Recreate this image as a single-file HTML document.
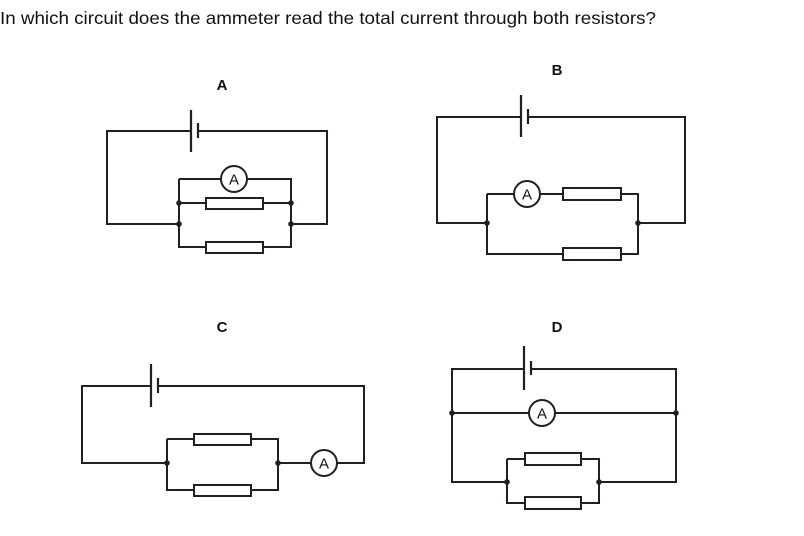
<!DOCTYPE html>
<html><head><style>html,body{margin:0;padding:0;background:#fff;}svg{display:block}</style></head>
<body>
<svg width="804" height="536" viewBox="0 0 804 536" xmlns="http://www.w3.org/2000/svg" font-family="Liberation Sans, Arial, sans-serif">
<text x="0" y="24" font-size="17.5" fill="#111" textLength="656" lengthAdjust="spacingAndGlyphs">In which circuit does the ammeter read the total current through both resistors?</text>
<g font-weight="bold" font-size="15" fill="#111" text-anchor="middle">
<text x="222" y="90">A</text><text x="557" y="75">B</text><text x="222" y="332">C</text><text x="557" y="332">D</text>
</g>
<g stroke="#231f20" stroke-width="2" fill="none">
<!-- A -->
<path d="M191 131H107V224H179M198 131H327V224H291"/>
<path d="M191 110V152M198 123V138" stroke-width="2.2"/>
<path d="M179 179V247H206M263 247H291V179H247M221 179H179M179 203H206M263 203H291"/>
<rect x="206" y="198" width="57" height="11"/><rect x="206" y="242" width="57" height="11"/>
<circle cx="234" cy="179" r="13"/>
<!-- B -->
<path d="M521 117H437V223H487M528 117H685V223H638"/>
<path d="M521 95V137M528 109V124" stroke-width="2.2"/>
<path d="M487 194V254H563M621 254H638V194H621M563 194H541M513 194H487"/>
<rect x="563" y="188" width="58" height="12"/><rect x="563" y="248" width="58" height="12"/>
<circle cx="527" cy="194" r="13"/>
<!-- C -->
<path d="M151 386H82V463H167M158 386H364V463H337M311 463H278"/>
<path d="M151 364V407M158 378V393" stroke-width="2.2"/>
<path d="M167 439V490H194M251 490H278V439H251M194 439H167"/>
<rect x="194" y="434" width="57" height="11"/><rect x="194" y="485" width="57" height="11"/>
<circle cx="324" cy="463" r="13"/>
<!-- D -->
<path d="M524 369H452V482H507M531 369H676V482H599M452 413H529M555 413H676"/>
<path d="M524 346V390M531 361V375" stroke-width="2.2"/>
<path d="M507 459V503H525M581 503H599V459H581M525 459H507"/>
<rect x="525" y="453" width="56" height="12"/><rect x="525" y="497" width="56" height="12"/>
<circle cx="542" cy="413" r="13"/>
</g>
<g font-size="15" fill="#111" text-anchor="middle">
<text x="234" y="184.5">A</text><text x="527" y="199.5">A</text><text x="324" y="468.5">A</text><text x="542" y="418.5">A</text>
</g>
<g fill="#231f20">
<circle cx="179" cy="203" r="2.8"/><circle cx="291" cy="203" r="2.8"/><circle cx="179" cy="224" r="2.8"/><circle cx="291" cy="224" r="2.8"/>
<circle cx="487" cy="223" r="2.8"/><circle cx="638" cy="223" r="2.8"/>
<circle cx="167" cy="463" r="2.8"/><circle cx="278" cy="463" r="2.8"/>
<circle cx="452" cy="413" r="2.8"/><circle cx="676" cy="413" r="2.8"/><circle cx="507" cy="482" r="2.8"/><circle cx="599" cy="482" r="2.8"/>
</g>
</svg>
</body></html>
